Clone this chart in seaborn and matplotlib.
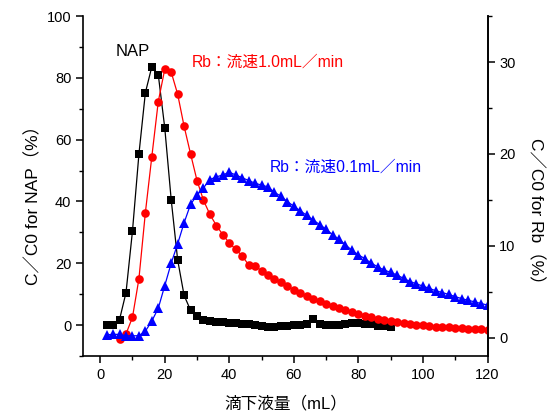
import numpy as np
import pandas as pd
import matplotlib
matplotlib.use("Agg")
import matplotlib.pyplot as plt
from matplotlib.ticker import MultipleLocator
import seaborn as sns

# ---- data ----
nap_x = list(range(2, 92, 2))
nap_y = [0.0, 0.0, 1.8, 10.5, 30.4, 55.3, 75.2, 83.6, 81.0, 63.9,
         40.6, 21.1, 9.6, 4.8, 2.9, 1.8, 1.3, 1.1, 1.0, 0.8,
         0.6, 0.4, 0.2, 0.0, -0.3, -0.5, -0.5, -0.4, -0.3, -0.1,
         0.0, 0.4, 2.0, 0.3, 0.1, 0.0, 0.0, 0.2, 0.6, 0.8,
         0.5, 0.2, -0.2, -0.4, -0.5]

rb10_x = list(range(6, 122, 2))
rb10_y = [-0.2, 0.4, 2.2, 6.4, 13.6, 19.7, 25.7, 29.2, 28.9, 26.5,
          23.0, 20.0, 17.1, 14.95, 13.4, 12.2, 11.2, 10.3, 9.6, 8.9,
          7.9, 7.75, 7.3, 6.85, 6.4, 6.0, 5.6, 5.2, 4.9, 4.5,
          4.2, 3.95, 3.7, 3.45, 3.2, 2.95, 2.75, 2.6, 2.35, 2.2,
          2.05, 1.9, 1.8, 1.7, 1.55, 1.45, 1.4, 1.33, 1.26, 1.2,
          1.17, 1.13, 1.08, 1.03, 0.99, 0.94, 0.9, 0.87]

rb01_x = list(range(2, 122, 2))
rb01_y = [0.3, 0.35, 0.35, 0.2, 0.2, 0.2, 0.7, 1.8, 3.2, 5.65,
          8.1, 10.2, 12.5, 14.5, 15.5, 16.3, 17.2, 17.5, 17.7, 18.0,
          17.7, 17.4, 17.1, 16.8, 16.6, 16.4, 15.8, 15.4, 14.8, 14.3,
          13.8, 13.3, 12.8, 12.3, 11.8, 11.2, 10.7, 10.1, 9.5, 9.0,
          8.6, 8.1, 7.7, 7.35, 7.1, 6.8, 6.45, 6.1, 5.85, 5.6,
          5.35, 5.1, 4.9, 4.7, 4.45, 4.25, 4.05, 3.9, 3.7, 3.55]

x_ticks = [0, 20, 40, 60, 80, 100, 120]
left_ticks = [0, 20, 40, 60, 80, 100]
right_ticks = [0, 10, 20, 30]

label_nap = "NAP"
label_rb10 = "Rb：流速1.0mL／min"
label_rb01 = "Rb：流速0.1mL／min"
xlabel = "滴下液量（mL）"
ylabel_left = "C／C0 for NAP（%）"
ylabel_right = "C／C0 for Rb（%）"

# ---- style ----
sns.set_theme(style="ticks")
plt.rcParams['font.family'] = ['Liberation Sans', 'Noto Sans CJK JP', 'DejaVu Sans']
plt.rcParams['axes.linewidth'] = 1.2

fig = plt.figure(figsize=(5.48, 4.12), dpi=100)
ax = fig.add_axes([0.1516, 0.136, 0.8896 - 0.1516, 0.961 - 0.136])

df_nap = pd.DataFrame({"x": nap_x, "y": nap_y})
df_rb10 = pd.DataFrame({"x": rb10_x, "y": rb10_y})
df_rb01 = pd.DataFrame({"x": rb01_x, "y": rb01_y})

sns.lineplot(data=df_nap, x="x", y="y", ax=ax, color="black", lw=0.9,
             marker="s", markersize=5.2, markeredgewidth=0, estimator=None, sort=False)

ax2 = ax.twinx()
sns.lineplot(data=df_rb10, x="x", y="y", ax=ax2, color="#ff0000", lw=0.9,
             marker="o", markersize=6.2, markeredgewidth=0, estimator=None, sort=False)
sns.lineplot(data=df_rb01, x="x", y="y", ax=ax2, color="#0000ff", lw=0.9,
             marker="^", markersize=7, markeredgewidth=0, estimator=None, sort=False)

ax.set_xlim(-5.3, 120)
ax.set_ylim(-10, 100)
ax2.set_ylim(-2, 35)

ax.set_xticks(x_ticks)
ax.set_yticks(left_ticks)
ax2.set_yticks(right_ticks)
ax.xaxis.set_minor_locator(MultipleLocator(10))
ax.yaxis.set_minor_locator(MultipleLocator(10))
ax2.yaxis.set_minor_locator(MultipleLocator(5))

for a in (ax, ax2):
    a.spines['top'].set_visible(False)
    for s in a.spines.values():
        s.set_color("black")
        s.set_linewidth(1.2)
    a.tick_params(which="major", direction="out", length=5, width=1.1,
                  colors="black", labelsize=10.5)
    a.tick_params(which="minor", direction="out", length=3, width=1.0, colors="black")
ax2.spines['left'].set_visible(False)
ax2.spines['bottom'].set_visible(False)

ax.set_xlabel(xlabel, fontsize=12, color="black")
ax.xaxis.set_label_coords(0.5, -0.115)
ax.set_ylabel(ylabel_left, fontsize=12.5, color="black")
ax.yaxis.set_label_coords(-0.104, 0.455)
ax2.set_ylabel(ylabel_right, fontsize=12.5, color="black", rotation=270, va="bottom")
ax2.yaxis.set_label_coords(1.100, 0.415)

ax.text(4.9, 88.5, label_nap, fontsize=12, color="black", ha="left", va="center")
ax2.text(28.3, 30.0, label_rb10, fontsize=11.3, color="#ff0000", ha="left", va="center")
ax2.text(52.6, 18.5, label_rb01, fontsize=11.3, color="#0000ff", ha="left", va="center")

fig.savefig("out.png", dpi=100)
